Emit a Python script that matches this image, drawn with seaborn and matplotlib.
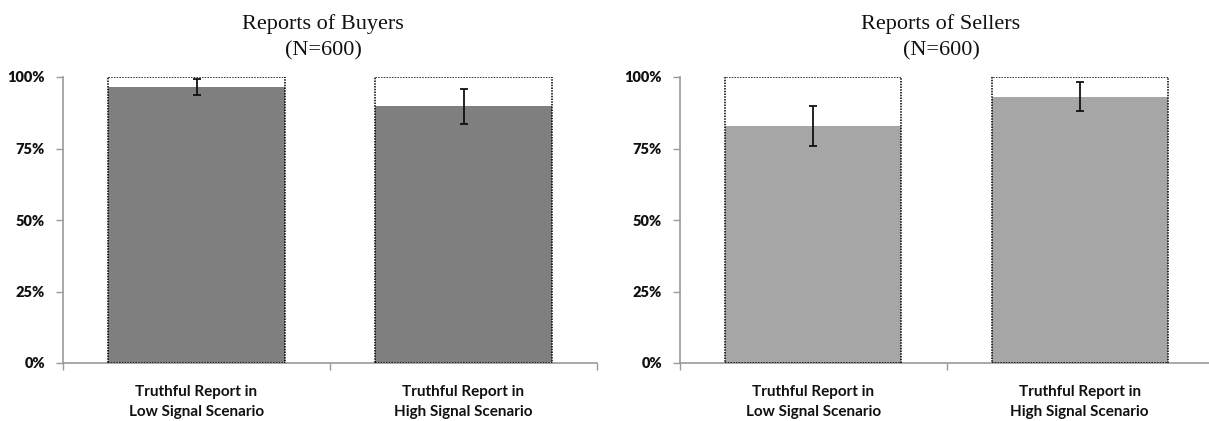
import numpy as np
import pandas as pd
import matplotlib
matplotlib.use("Agg")
import matplotlib.pyplot as plt
import seaborn as sns

# Share of truthful reports per scenario, with error-bar half widths
scenarios = ["Truthful Report in\nLow Signal Scenario",
             "Truthful Report in\nHigh Signal Scenario"]
buyers_share = [0.965, 0.898]
buyers_err = [0.028, 0.061]
sellers_share = [0.830, 0.931]
sellers_err = [0.070, 0.050]
ceiling = [1.0, 1.0]
yticks = [0.0, 0.25, 0.50, 0.75, 1.0]
ytick_labels = ["0%", "25%", "50%", "75%", "100%"]
titles = ["Reports of Buyers\n(N=600)", "Reports of Sellers\n(N=600)"]

sns.set_theme(style="white")
plt.rcParams["font.family"] = ["Lato", "DejaVu Sans"]

fig = plt.figure(figsize=(12.09, 4.21), dpi=100)
W, H = 1209, 421
ax_left = fig.add_axes([63 / W, (H - 363) / H, 534 / W, 286 / H])
ax_right = fig.add_axes([680 / W, (H - 363) / H, 533 / W, 286 / H])

panels = [
    (ax_left, buyers_share, buyers_err, "#7f7f7f", titles[0], 323),
    (ax_right, sellers_share, sellers_err, "#a6a6a6", titles[1], 941),
]

spine_color = "#9a9a9a"
for ax, share, err, color, title, tx in panels:
    df = pd.DataFrame({"scenario": scenarios, "share": share, "ceiling": ceiling})
    # filled bars
    sns.barplot(data=df, x="scenario", y="share", color=color, width=0.66,
                saturation=1, ax=ax, zorder=2)
    n_filled = len(ax.patches)
    # dotted 100% outline on top
    sns.barplot(data=df, x="scenario", y="ceiling", width=0.66, fill=False,
                ax=ax, zorder=3)
    for p in ax.patches[n_filled:]:
        p.set_facecolor("none")
        p.set_edgecolor("#000000")
        p.set_linestyle((0, (1, 0.8)))
        p.set_linewidth(1.1)
    for p in ax.patches[:n_filled]:
        p.set_edgecolor("none")
    ax.errorbar(x=np.arange(len(scenarios)), y=share, yerr=err, fmt="none",
                ecolor="#111111", elinewidth=1.3, capsize=3, capthick=1.3,
                zorder=4)

    ax.set_xlim(-0.5, 1.5)
    ax.set_ylim(0, 1.0)
    ax.set_yticks(yticks)
    ax.set_yticklabels(ytick_labels, fontsize=10.5, fontweight="heavy",
                       color="#111111")
    ax.set_xticks([-0.5, 0.5, 1.5], minor=False)
    ax.set_xticklabels([])
    ax.set_xticks([0, 1], minor=True)
    ax.set_xticklabels(scenarios, minor=True, fontsize=11, fontweight="bold",
                       color="#111111", linespacing=1.55)
    ax.tick_params(axis="x", which="major", direction="out", length=5,
                   width=1, color=spine_color, bottom=True)
    ax.tick_params(axis="x", which="minor", length=0, pad=16, bottom=True)
    ax.tick_params(axis="y", direction="out", length=5, width=1,
                   color=spine_color, left=True, pad=8)
    ax.set_xlabel("")
    ax.set_ylabel("")
    for side in ["top", "right"]:
        ax.spines[side].set_visible(False)
    for side in ["left", "bottom"]:
        ax.spines[side].set_color(spine_color)
        ax.spines[side].set_linewidth(1.2)
    ax.grid(False)

    fig.text(tx / W, (H - 55) / H, title, ha="center", va="baseline",
             fontsize=16, family=["Liberation Serif", "DejaVu Serif"],
             color="#111111", linespacing=1.5)

fig.savefig("out.png", dpi=100)
